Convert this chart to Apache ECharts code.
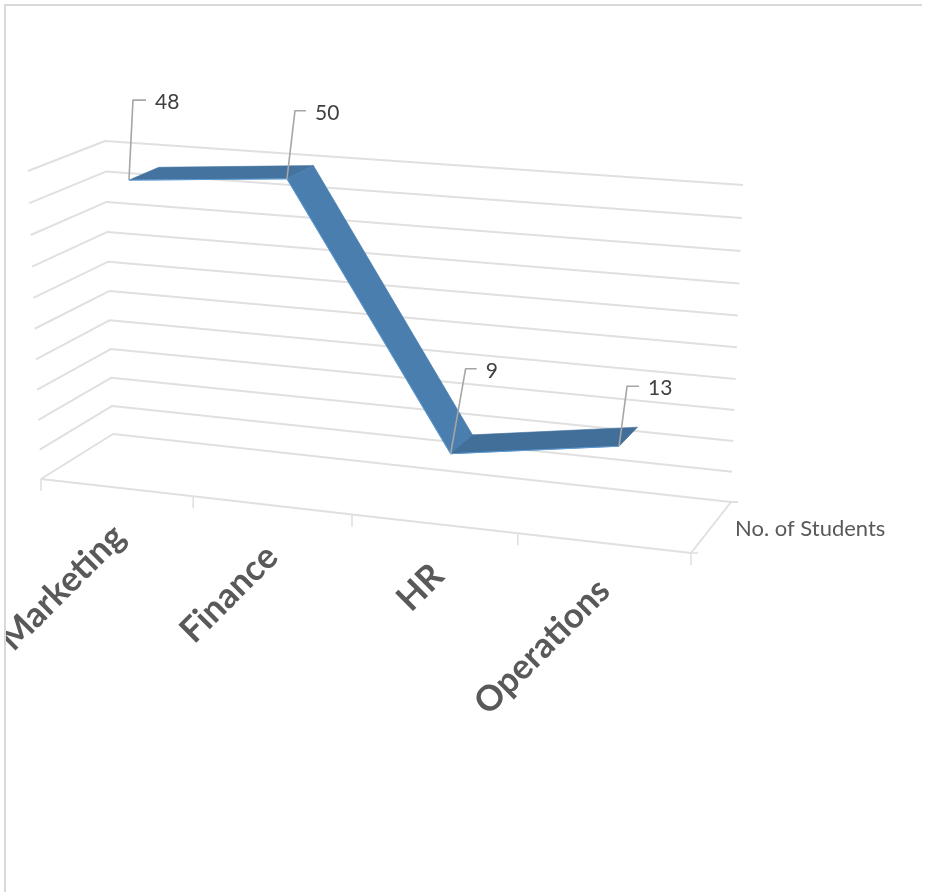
<!DOCTYPE html>
<html><head><meta charset="utf-8">
<style>html,body{margin:0;padding:0;background:#fff}#c{width:935px;height:892px}</style>
<script src="https://cdn.jsdelivr.net/npm/echarts@6/dist/echarts.min.js"></script>
</head><body><div id="c"></div>
<script>
const categories = ['Marketing', 'Finance', 'HR', 'Operations'];
const values = [48, 50, 9, 13];
const seriesName = 'No. of Students';
const valueTicks = [0, 5, 10, 15, 20, 25, 30, 35, 40, 45, 50];
const categoryEdges = [0, 1, 2, 3, 4];

// Screen corners of the 3-D box and the perspective that maps the library's
// grid coordinates on to it.
const G = {left: 100, top: 100, width: 400, height: 400};
const BOX = {
  fl0: [41, 479], fr0: [691, 553], bl0: [113, 434], br0: [731, 502],
  fl1: [28, 171], fr1: [701, 221], bl1: [105, 141], br1: [743, 185]
};
const K_U = 1.09, K_V = 1.05, RIBBON_D = [0.31, 0.72];
const pers = (t, k) => t / (t + k * (1 - t));
const lerp = (a, b, t) => [a[0] + (b[0] - a[0]) * t, a[1] + (b[1] - a[1]) * t];
function project(u, v, d) {
  const tu = pers(u, K_U), tv = pers(v, K_V);
  const front = lerp(lerp(BOX.fl0, BOX.fr0, tu), lerp(BOX.fl1, BOX.fr1, tu), tv);
  const back = lerp(lerp(BOX.bl0, BOX.br0, tu), lerp(BOX.bl1, BOX.br1, tu), tv);
  return lerp(front, back, d);
}
const normU = px => (px - G.left) / G.width;
const normV = py => (G.top + G.height - py) / G.height;
const vOf = (api, val) => normV(api.coord([0, val])[1]);
const uOf = (api, i) => normU(api.coord([i, 0])[0]);

const GRID_C = '#e0e0e0', TEXT_C = '#595959', LEAD_C = '#a6a6a6';
const line = (pts, color, width) => ({
  type: 'polyline', shape: {points: pts},
  style: {stroke: color, lineWidth: width, fill: null, lineJoin: 'round'}
});

const RIBBON_C = ['#44739f', '#4a7eae', '#426f9a'];
const LEAD_OFFS = [[4, -80, 13], [8, -68, 11], [15, -85, 11], [8, -60, 12]];
const LABEL_ENDS = [[119, 531], [272, 551], [438, 570], [604, 585]];

const chart = echarts.init(document.getElementById('c'), null, {renderer: 'canvas'});
chart.setOption({
  animation: false,
  backgroundColor: '#fff',
  grid: {left: G.left, top: G.top, width: G.width, height: G.height, show: false},
  xAxis: {type: 'category', data: categories, show: false},
  yAxis: {type: 'value', min: 0, max: 50, interval: 5, show: false},
  graphic: [
    {type: 'rect', z: 100, shape: {x: 0, y: 0, width: 4, height: 892}, style: {fill: '#fff'}},
    {type: 'rect', z: 101, shape: {x: 4, y: 4, width: 2, height: 888}, style: {fill: '#d9d9d9'}},
    {type: 'rect', z: 101, shape: {x: 4, y: 4, width: 918, height: 2}, style: {fill: '#d9d9d9'}}
  ],
  series: [
    {
      type: 'custom', name: 'walls', coordinateSystem: 'cartesian2d', silent: true, z: 1,
      data: valueTicks.map(v => [0, v]),
      clip: false,
      renderItem(p, api) {
        const v = vOf(api, api.value(1));
        return line([project(0, v, 0), project(0, v, 1), project(1, v, 1)], GRID_C, 2);
      }
    },
    {
      type: 'custom', name: 'floor', coordinateSystem: 'cartesian2d', silent: true, z: 1,
      data: categoryEdges.map(e => [0, 0, e]), clip: false,
      renderItem(p, api) {
        const e = api.value(2) / categories.length;
        const a = project(e, 0, 0);
        const children = [line([a, [a[0], a[1] + 12]], GRID_C, 1.6)];
        if (e < 1) children.push(line([a, project(e + 1 / categories.length, 0, 0)], GRID_C, 2));
        else {
          children.push(line([a, project(1, 0, 1), [738, 502]], GRID_C, 2));
          children.push(line([a, [a[0] + 7, a[1]]], GRID_C, 1.6));
        }
        return {type: 'group', children};
      }
    },
    {
      type: 'custom', name: seriesName, coordinateSystem: 'cartesian2d', z: 3, clip: false,
      data: values.map((v, i) => [i, v]),
      renderItem(p, api) {
        const i = p.dataIndex;
        if (i >= values.length - 1) return {type: 'group', children: []};
        const u0 = uOf(api, i), u1 = uOf(api, i + 1);
        const v0 = vOf(api, api.value(1)), v1 = vOf(api, values[i + 1]);
        const a = project(u0, v0, RIBBON_D[0]), b = project(u1, v1, RIBBON_D[0]);
        const c = project(u1, v1, RIBBON_D[1]), d = project(u0, v0, RIBBON_D[1]);
        return {type: 'group', children: [
          {type: 'polygon', shape: {points: [a, b, c, d]},
           style: {fill: RIBBON_C[i], stroke: RIBBON_C[i], lineWidth: 0.6}},
          line([a, b], '#5b9bd5', 1)
        ]};
      }
    },
    {
      type: 'custom', name: 'labels', coordinateSystem: 'cartesian2d', silent: true, z: 4, clip: false,
      data: values.map((v, i) => [i, v]),
      renderItem(p, api) {
        const i = p.dataIndex, off = LEAD_OFFS[i];
        const a = project(uOf(api, api.value(0)), vOf(api, api.value(1)), RIBBON_D[0]);
        const b = [a[0] + off[0], a[1] + off[1]];
        const c = [b[0] + off[2], b[1]];
        return {type: 'group', children: [
          line([a, b, c], LEAD_C, 1.6),
          {type: 'text', x: c[0] + 9, y: c[1] + 2.5,
           style: {text: String(api.value(1)), font: '21px Lato', fill: '#404040',
                   textAlign: 'left', textVerticalAlign: 'middle'}}
        ]};
      }
    },
    {
      type: 'custom', name: 'categories', coordinateSystem: 'cartesian2d', silent: true, z: 4, clip: false,
      data: categories.map((c, i) => [i, 0]),
      renderItem(p, api) {
        const e = LABEL_ENDS[p.dataIndex];
        return {type: 'text', x: e[0], y: e[1], rotation: Math.PI / 4,
          style: {text: categories[p.dataIndex], font: 'bold 35px Lato', fill: TEXT_C,
                  textAlign: 'right', textVerticalAlign: 'middle'}};
      }
    },
    {
      type: 'custom', name: 'depthLabel', coordinateSystem: 'cartesian2d', silent: true, z: 4, clip: false,
      data: [[0, 0]],
      renderItem() {
        return {type: 'text', x: 735, y: 529,
          style: {text: seriesName, font: '22px Lato', fill: TEXT_C,
                  textAlign: 'left', textVerticalAlign: 'middle'}};
      }
    }
  ]
});
</script></body></html>
